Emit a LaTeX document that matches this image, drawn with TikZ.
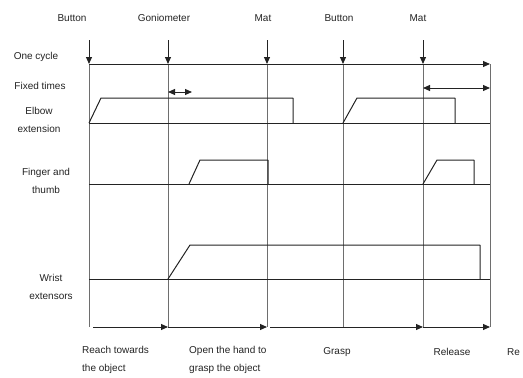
\documentclass[tikz,border=0pt]{standalone}
\usepackage{fontspec}
\setmainfont{Liberation Sans}
\usetikzlibrary{arrows.meta, positioning, calc}
\definecolor{inkgray}{RGB}{35, 35, 35}
\definecolor{gridgray}{RGB}{110, 110, 110}

\begin{document}
\begin{tikzpicture}[
  x=1pt, y=-1pt,
  lbl/.style={font=\fontsize{10}{18}\selectfont, inner sep=0pt, align=center, text=inkgray},
  phase/.style={lbl, align=left, anchor=north west},
  sig/.style={draw=inkgray, line width=1pt, line join=round},
  grid/.style={draw=gridgray, line width=0.7pt},
  arr/.style={-{Triangle[length=7pt, width=6pt]}, line width=1pt, inkgray},
  dbl/.style={{Triangle[length=7pt, width=6pt]}-{Triangle[length=7pt, width=6pt]}, line width=1pt, inkgray}
]
  \useasboundingbox (0,0) rectangle (523,378);

  % event times
  \foreach \n/\x in {a/89, b/168, c/267, d/343, e/423, f/490} {
    \coordinate (top\n) at (\x,40);
    \coordinate (cyc\n) at (\x,64);
    \coordinate (bot\n) at (\x,327);
  }

  % event labels
  \node[lbl] (btn1) at (72,18) {Button};
  \node[lbl] (gonio) at (164,18) {Goniometer};
  \node[lbl] (mat1) at (263,18) {Mat};
  \node[lbl] (btn2) at (339,18) {Button};
  \node[lbl] (mat2) at (418,18) {Mat};

  % row labels
  \node[lbl] (cycle) at (36,57) {One cycle};
  \node[lbl] (fixed) at (40,86) {Fixed times};
  \node[lbl] (elbow) at (39,120) {Elbow\\extension};
  \node[lbl] (finger) at (46,181) {Finger and\\thumb};
  \node[lbl] (wrist) at (51,287) {Wrist\\extensors};

  % grid
  \foreach \n in {a,b,c,d,e,f}
    \draw[grid] (cyc\n) -- (bot\n);
  \foreach \n in {a,b,c,d,e}
    \draw[arr] (top\n) -- (cyc\n);
  \draw[arr] (cyca) -- (cycf);

  % fixed times
  \coordinate (fx1) at (168,92);
  \coordinate (fx2) at (192,92);
  \coordinate (fx3) at (423,88);
  \coordinate (fx4) at (490,88);
  \draw[dbl] (fx1) -- (fx2);
  \draw[dbl] (fx3) -- (fx4);

  % elbow extension
  \draw[sig] (89,123) -- (490,123);
  \draw[sig] (89,123) -- (101,98) -- (293,98) -- (293,123);
  \draw[sig] (343,123) -- (357,98) -- (455,98) -- (455,123);

  % finger and thumb
  \draw[sig] (89,184) -- (490,184);
  \draw[sig] (189,184) -- (200,160) -- (268,160) -- (268,184);
  \draw[sig] (423,184) -- (437,160) -- (474,160) -- (474,184);

  % wrist extensors
  \draw[sig] (89,279) -- (490,279);
  \draw[sig] (168,279) -- (190,245) -- (480,245) -- (480,279);

  % phases
  \coordinate (ph0) at (93,327);
  \coordinate (ph3) at (270,327);
  \draw[arr] (ph0) -- (botb);
  \draw[arr] (botb) -- (botc);
  \draw[arr] (ph3) -- (bote);
  \draw[arr] (bote) -- (botf);

  \node[phase] (reach) at (82,346) {Reach towards\\the object};
  \node[phase] (open) at (189,346) {Open the hand to\\grasp the object};
  \node[lbl] (grasp) at (337,352) {Grasp};
  \node[lbl] (release) at (452,352) {Release};
  \node[lbl, anchor=west] (next) at (507,352) {Re};
\end{tikzpicture}
\end{document}
